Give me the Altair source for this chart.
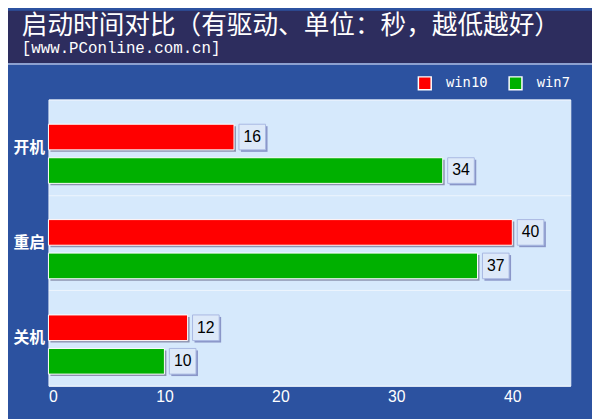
import altair as alt
import pandas as pd

categories = ["开机", "重启", "关机"]
series_names = ["win10", "win7"]
win10_values = [16, 40, 12]
win7_values = [34, 37, 10]
x_ticks = [0, 10, 20, 30, 40]
series_colors = ["#ff0000", "#00b000"]
title_text = "启动时间对比（有驱动、单位：秒，越低越好）"
subtitle_text = "[www.PConline.com.cn]"

rows = []
for c, a, b in zip(categories, win10_values, win7_values):
    rows.append({"cat": c, "series": "win10", "value": a})
    rows.append({"cat": c, "series": "win7", "value": b})
df = pd.DataFrame(rows)

W, H = 529, 290
PAD_L, PAD_T = 41, 90
CANVAS_W, CANVAS_H = 592, 411

x_scale = alt.Scale(domain=[0, 45], nice=False, zero=True)
y_scale = alt.Scale(domain=categories, paddingInner=0, paddingOuter=0)


def off_scale(shift=0.0):
    return alt.Scale(type="band", domain=series_names, paddingInner=0.235,
                     paddingOuter=0.54, align=(25 + shift) / 36.7)


y_axis = alt.Axis(labelColor="white", labelFont="Noto Sans CJK SC",
                  labelFontSize=16, labelFontWeight="bold", labelPadding=4,
                  ticks=False, domain=False, grid=True, tickBand="extent",
                  gridColor="#eef5fd", gridWidth=1)
x_axis = alt.Axis(values=x_ticks, labelColor="white", labelFont="Liberation Sans",
                  labelFontSize=16, labelPadding=3, ticks=False, domain=False,
                  grid=False)

Y = alt.Y("cat:N", scale=y_scale, sort=categories, title=None, axis=y_axis)
X = alt.X("value:Q", scale=x_scale, title=None, axis=x_axis)


def yoff(shift=0.0):
    return alt.YOffset("series:N", scale=off_scale(shift), sort=series_names)


one = alt.Data(values=[{}])

band = alt.Chart(one).mark_rect(color="#2d2d5e").encode(
    x=alt.value(-PAD_L), x2=alt.value(CANVAS_W - PAD_L),
    y=alt.value(-PAD_T), y2=alt.value(-37))
line = alt.Chart(one).mark_rule(color="#aebde0", strokeWidth=1.5).encode(
    x=alt.value(-PAD_L), x2=alt.value(CANVAS_W - PAD_L), y=alt.value(-36))

bar_shadow = alt.Chart(df).mark_bar(color="#8c93b0", xOffset=2, x2Offset=2).encode(
    y=Y, x=X, yOffset=yoff(2))
bars = alt.Chart(df).mark_bar(stroke="white", strokeWidth=1).encode(
    y=Y, x=X, yOffset=yoff(0),
    color=alt.Color("series:N",
                    scale=alt.Scale(domain=series_names, range=series_colors),
                    legend=alt.Legend(orient="none", legendX=374, legendY=-24,
                                      direction="horizontal", title=None,
                                      symbolType="square", symbolSize=169,
                                      symbolStrokeColor="white",
                                      symbolStrokeWidth=1.5, symbolOpacity=1,
                                      labelColor="white",
                                      labelFont="DejaVu Sans Mono",
                                      labelFontSize=14, labelOffset=14,
                                      columnPadding=18, padding=0)))
box_shadow = alt.Chart(df).mark_bar(color="#8a96c8", xOffset=7, x2Offset=34).encode(
    y=Y, x=X, x2="value:Q", yOffset=yoff(2))
box = alt.Chart(df).mark_bar(color="#dde9f9", stroke="#a9b8e2", strokeWidth=1,
                             xOffset=5, x2Offset=32).encode(
    y=Y, x=X, x2="value:Q", yOffset=yoff(0))
labels = alt.Chart(df).mark_text(font="Liberation Sans", fontSize=16,
                                 color="black", dx=18.5, align="center",
                                 baseline="middle").encode(
    y=Y, x=X, yOffset=yoff(0), text="value:Q")

chart = alt.layer(band, line, bar_shadow, bars, box_shadow, box, labels).resolve_scale(
    yOffset="independent"
).properties(
    width=W, height=H,
    padding={"left": PAD_L, "top": PAD_T, "right": CANVAS_W - PAD_L - W,
             "bottom": CANVAS_H - PAD_T - H},
    autosize=alt.AutoSizeParams(type="none"),
    background="#2c52a0",
    title=alt.TitleParams(text=title_text, subtitle=subtitle_text,
                          anchor="start", frame="group", dx=-27,
                          color="white", fontSize=26, font="Noto Sans CJK SC",
                          fontWeight="normal", subtitleColor="white",
                          subtitleFont="Liberation Mono", subtitleFontSize=16,
                          subtitlePadding=1, offset=-46),
).configure_view(fill="#d6e9fc", stroke="#e6f0fb")

chart.save("out.html", embed_options={"renderer": "svg", "actions": False})
